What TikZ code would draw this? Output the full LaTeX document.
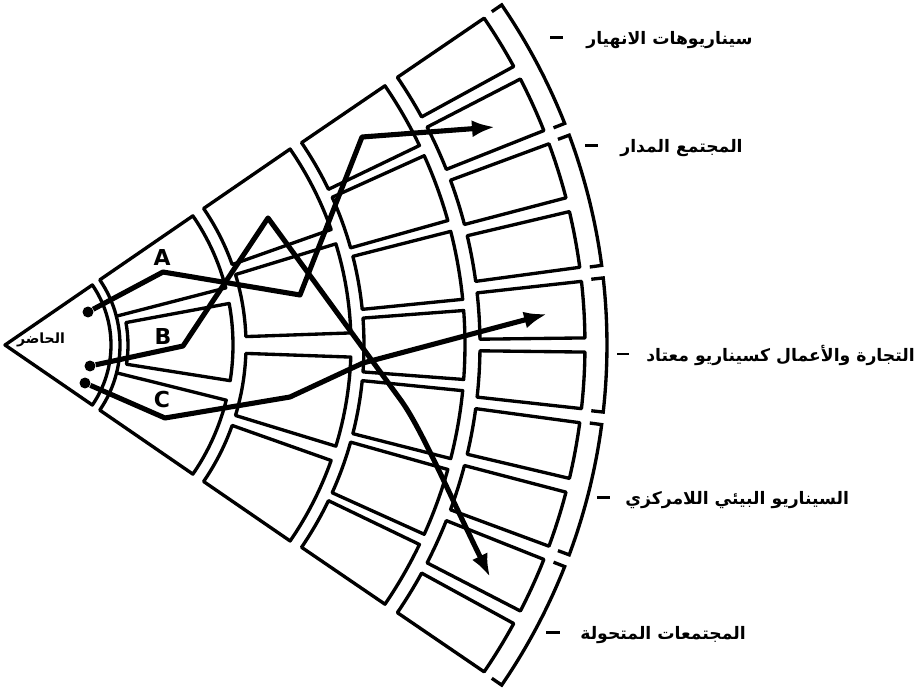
\documentclass[tikz,border=0pt]{standalone}
\usepackage{fontspec}
\newfontfamily\arabicfont[Script=Arabic]{DejaVu Sans}
\TeXXeTstate=1
\usetikzlibrary{arrows.meta}
\tikzset{
    tilebox/.style={draw=black, line width=1.9pt, line join=round},
    rimline/.style={draw=black, line width=1.9pt},
    route/.style={draw=black, line width=2.9pt, line join=round, -{Latex[length=0.46cm,width=0.34cm]}},
    startdot/.style={circle, fill=black, inner sep=0pt, minimum size=0.22cm},
    letter/.style={font=\arabicfont\bfseries\fontsize{12.5}{12}\selectfont},
    scenario/.style={anchor=west, inner sep=0pt, font=\arabicfont\bfseries\fontsize{9.8}{12}\selectfont}
}
% one cell of the fan: angle from, angle to, inner radius, outer radius
\newcommand{\fancell}[4]{%
    \draw[tilebox] (#1:#3) -- (#1:#4) arc[start angle=#1, end angle=#2, radius={#4*0.02cm}]
        -- (#2:#3) arc[start angle=#2, end angle=#1, radius={#3*0.02cm}] -- cycle;}
% bracket on the rim
\newcommand{\rimbracket}[2]{%
    \draw[rimline] (#1:590) -- (#1:602) arc[start angle=#1, end angle=#2, radius={602*0.02cm}] -- (#2:590);}

\begin{document}
\begin{tikzpicture}[x=0.02cm, y=0.02cm]
    \useasboundingbox (-5,-352) rectangle (916,345);

    % present
    \draw[tilebox] (0,0) -- (34.5:106) arc[start angle=34.5, end angle=-34.5, radius={106*0.02cm}] -- cycle;
    \node[letter, font=\arabicfont\bfseries\fontsize{8}{10}\selectfont] (present) at (36,5) {\beginR الحاضر\endR};

    % first ring
    \fancell{14.5}{34.5}{115}{228}
    \fancell{-9}{10.5}{123}{228}
    \fancell{-34.5}{-14}{115}{228}
    \draw[tilebox] (14.5:115) arc[start angle=14.5, end angle=-14, radius={115*0.02cm}];
    % second ring
    \fancell{19.5}{34.5}{241}{346}
    \fancell{2}{17}{241}{346}
    \fancell{-17}{-2}{241}{346}
    \fancell{-34.5}{-19.5}{241}{346}
    % third ring
    \foreach \k in {0,...,6}{
        \fancell{35-10*\k-9.3}{35-10*\k-0.7}{359}{460}
    }
    % fourth ring
    \foreach \k in {0,...,9}{
        \fancell{35-7*\k-6.3}{35-7*\k-0.7}{475}{580}
    }

    % rim brackets
    \rimbracket{34.4}{21.6}
    \rimbracket{20.4}{7.6}
    \rimbracket{6.4}{-6.4}
    \rimbracket{-7.6}{-20.4}
    \rimbracket{-21.6}{-34.4}

    % letters
    \node[letter] (la) at (157,88) {A};
    \node[letter] (lb) at (158,9) {B};
    \node[letter] (lc) at (157,-55) {C};

    % routes
    \node[startdot] (pa) at (83,33) {};
    \node[startdot] (pb) at (85,-21) {};
    \node[startdot] (pc) at (80,-38) {};
    \coordinate (a1) at (158,73);
    \coordinate (a2) at (295,50);
    \coordinate (a3) at (357,208);
    \coordinate (ea) at (490,218);
    \coordinate (b1) at (178,-1);
    \coordinate (b2) at (263,127);
    \coordinate (b3) at (395,-54);
    \coordinate (eb) at (485,-232);
    \coordinate (c1) at (160,-73);
    \coordinate (c2) at (285,-52);
    \coordinate (c3) at (358,-18);
    \coordinate (ec) at (542,31);
    \draw[route] (pa) -- (a1) -- (a2) -- (a3) -- (ea);
    \draw[route] (pb) -- (b1) -- (b2) -- (b3) .. controls (415,-81) and (440,-140) .. (eb);
    \draw[route] (pc) -- (c1) -- (c2) -- (c3) -- (ec);

    % scenario labels
    \node[scenario] (collapse) at (545,305) {\rule[0.6ex]{0.26cm}{1.6pt}\hspace{0.46cm}\beginR سيناريوهات الانهيار\endR};
    \node[scenario] (managed) at (580,197) {\rule[0.6ex]{0.26cm}{1.6pt}\hspace{0.44cm}\beginR المجتمع المدار\endR};
    \node[scenario] (business) at (612,-10) {\rule[0.6ex]{0.24cm}{1.6pt}\hspace{0.34cm}\beginR التجارة والأعمال كسيناريو معتاد\endR};
    \node[scenario] (ecocomm) at (592,-155) {\rule[0.6ex]{0.26cm}{1.6pt}\hspace{0.3cm}\beginR السيناريو البيئي اللامركزي\endR};
    \node[scenario] (transformed) at (541,-290) {\rule[0.6ex]{0.28cm}{1.6pt}\hspace{0.4cm}\beginR المجتمعات المتحولة\endR};
\end{tikzpicture}
\end{document}
